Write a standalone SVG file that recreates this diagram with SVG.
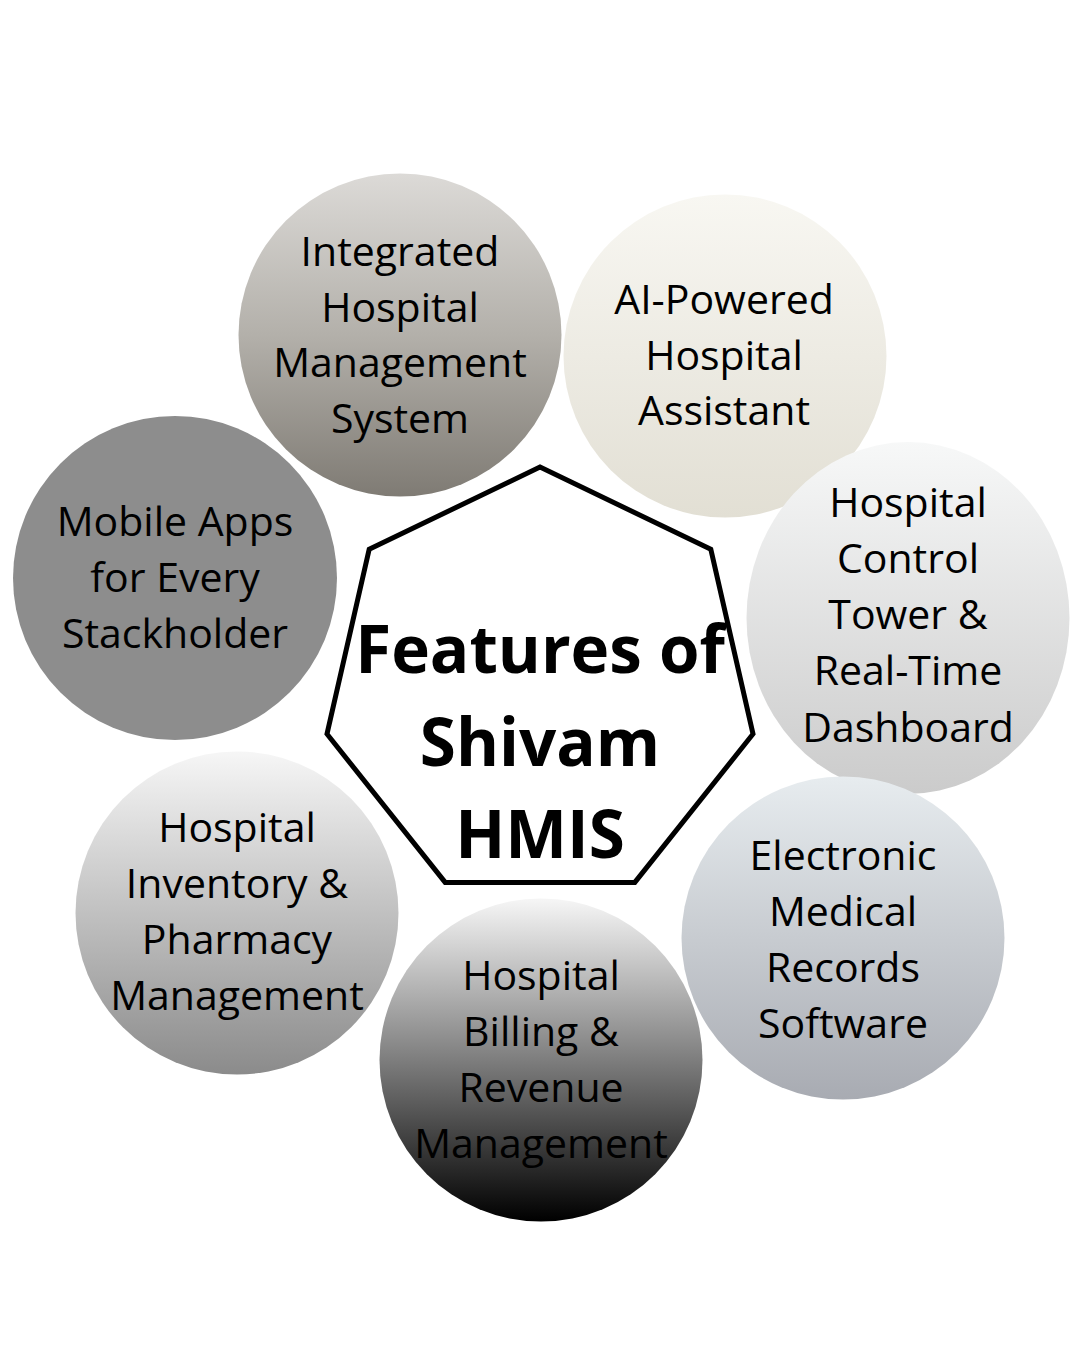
<svg xmlns="http://www.w3.org/2000/svg" width="1080" height="1350" viewBox="0 0 1080 1350">
<style>
.lbl{font-family:"Open Sans","Noto Sans","Liberation Sans",sans-serif;font-size:41px;fill:#000;text-anchor:middle}
.title{font-family:"Open Sans","Noto Sans","Liberation Sans",sans-serif;font-weight:700;font-size:65.5px;fill:#000;text-anchor:middle}
</style>
<defs>
<linearGradient id="gInt" x1="0" y1="0" x2="0" y2="1"><stop offset="0" stop-color="#dcdad7"/><stop offset="0.5" stop-color="#b3b0aa"/><stop offset="1" stop-color="#7f7b74"/></linearGradient>
<linearGradient id="gAI" x1="0" y1="0" x2="0" y2="1"><stop offset="0" stop-color="#f8f7f2"/><stop offset="1" stop-color="#e2dfd4"/></linearGradient>
<linearGradient id="gCtl" x1="0" y1="0" x2="0" y2="1"><stop offset="0" stop-color="#f7f8f8"/><stop offset="1" stop-color="#cbcbcb"/></linearGradient>
<linearGradient id="gEmr" x1="0" y1="0" x2="0" y2="1"><stop offset="0" stop-color="#e7ecef"/><stop offset="1" stop-color="#a8abb2"/></linearGradient>
<linearGradient id="gBil" x1="0" y1="0" x2="0" y2="1"><stop offset="0" stop-color="#f6f6f6"/><stop offset="0.45" stop-color="#8a8a8a"/><stop offset="1" stop-color="#000"/></linearGradient>
<linearGradient id="gInv" x1="0" y1="0" x2="0" y2="1"><stop offset="0" stop-color="#f6f6f6"/><stop offset="1" stop-color="#8b8b8b"/></linearGradient>
</defs>
<rect width="1080" height="1350" fill="#fff"/>
<g id="node-integrated">
<circle cx="400" cy="335" r="161.5" fill="url(#gInt)"/>
<text class="lbl" x="400" y="266">Integrated</text>
<text class="lbl" x="400" y="322">Hospital</text>
<text class="lbl" x="400" y="377">Management</text>
<text class="lbl" x="400" y="433">System</text>
</g>
<g id="node-ai">
<circle cx="725" cy="356" r="161.5" fill="url(#gAI)"/>
<text class="lbl" x="724" y="314">AI-Powered</text>
<text class="lbl" x="724" y="370">Hospital</text>
<text class="lbl" x="724" y="425">Assistant</text>
</g>
<g id="node-control">
<ellipse cx="908" cy="618" rx="161.5" ry="176" fill="url(#gCtl)"/>
<text class="lbl" x="908" y="517">Hospital</text>
<text class="lbl" x="908" y="573">Control</text>
<text class="lbl" x="908" y="629">Tower &amp;</text>
<text class="lbl" x="908" y="685">Real-Time</text>
<text class="lbl" x="908" y="742">Dashboard</text>
</g>
<g id="node-emr">
<circle cx="843" cy="938" r="161.5" fill="url(#gEmr)"/>
<text class="lbl" x="843" y="870">Electronic</text>
<text class="lbl" x="843" y="926">Medical</text>
<text class="lbl" x="843" y="982">Records</text>
<text class="lbl" x="843" y="1038">Software</text>
</g>
<g id="node-inventory">
<circle cx="237" cy="913" r="161.5" fill="url(#gInv)"/>
<text class="lbl" x="237" y="842">Hospital</text>
<text class="lbl" x="237" y="898">Inventory &amp;</text>
<text class="lbl" x="237" y="954">Pharmacy</text>
<text class="lbl" x="237" y="1010">Management</text>
</g>
<g id="node-billing">
<circle cx="541" cy="1060" r="161.5" fill="url(#gBil)"/>
<text class="lbl" x="541" y="990">Hospital</text>
<text class="lbl" x="541" y="1046">Billing &amp;</text>
<text class="lbl" x="541" y="1102">Revenue</text>
<text class="lbl" x="541" y="1158">Management</text>
</g>
<g id="node-mobile">
<circle cx="175" cy="578" r="162" fill="#8d8d8d"/>
<text class="lbl" x="175" y="536">Mobile Apps</text>
<text class="lbl" x="175" y="592">for Every</text>
<text class="lbl" x="175" y="648">Stackholder</text>
</g>
<g id="node-center">
<polygon points="540,467 710.8,549.3 753,734 634.8,882.4 445.2,882.4 327,734 369.2,549.3" fill="#fff" stroke="#000" stroke-width="5" stroke-linejoin="miter"/>
<text class="title" x="540" y="673">Features of</text>
<text class="title" x="540" y="766">Shivam</text>
<text class="title" x="540" y="858">HMIS</text>
</g>
<g id="connectors"/>
</svg>
